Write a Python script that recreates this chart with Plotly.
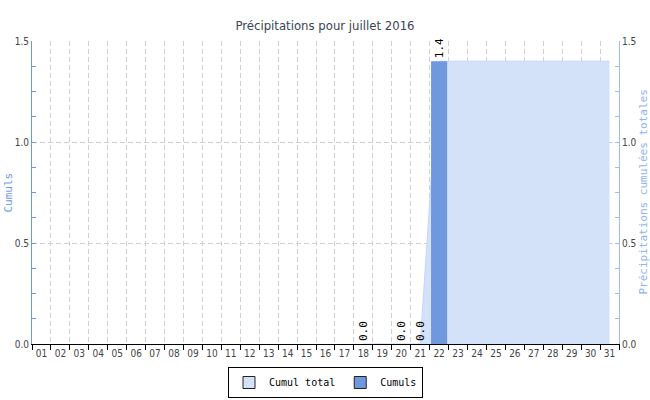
import plotly.graph_objects as go

# days of the month and the measured values
days = ['%02d' % d for d in range(1, 32)]

bar_days = ['18', '20', '21', '22']
bar_values = [0.0, 0.0, 0.0, 1.4]

total_days = ['%02d' % d for d in range(18, 32)]
total_values = [0.0, 0.0, 0.0, 0.0, 1.4, 1.4, 1.4, 1.4, 1.4, 1.4, 1.4, 1.4, 1.4, 1.4]

mono = 'DejaVu Sans Mono'
sans = 'Liberation Sans Narrow, DejaVu Sans Condensed, DejaVu Sans'

area_color = '#d3e1f9'
bar_color = '#6f98de'
right_color = '#9dbdf3'

W, H = 650, 400
L, R, T, B = 32, 31, 41, 56
PW = W - L - R

fig = go.Figure()

# cumulative area on the base axis (right side), drawn underneath
fig.add_trace(go.Scatter(
    x=total_days, y=total_values,
    name='Cumul total', showlegend=False,
    mode='lines',
    line=dict(color='#c4d6f6', width=1),
    fill='tozeroy',
    fillcolor=area_color,
    yaxis='y',
))

# daily bars on the overlaying left axis, drawn on top
fig.add_trace(go.Bar(
    x=bar_days, y=bar_values,
    name='Cumuls', showlegend=False,
    marker=dict(color=bar_color, line=dict(width=0)),
    width=0.85,
    text=['%.1f' % v for v in bar_values],
    textposition='outside',
    textangle=-90,
    constraintext='none',
    textfont=dict(family=mono, size=11, color='black'),
    cliponaxis=False,
    yaxis='y2',
))

# legend entries with outlined square swatches
fig.add_trace(go.Bar(x=[None], y=[None], name='Cumul total', yaxis='y2',
                     marker=dict(color=area_color, line=dict(color='#222', width=1))))
fig.add_trace(go.Bar(x=[None], y=[None], name='Cumuls', yaxis='y2',
                     marker=dict(color=bar_color, line=dict(color='#222', width=1))))

# axis titles placed by hand
fig.add_annotation(text='Cumuls', xref='paper', yref='paper',
                   x=(8 - L) / PW, y=0.5, xanchor='center', yanchor='middle',
                   textangle=-90, showarrow=False,
                   font=dict(family=mono, size=11, color='#6f9ae6'))
fig.add_annotation(text='Précipitations cumulées totales', xref='paper', yref='paper',
                   x=(643 - L) / PW, y=0.5, xanchor='center', yanchor='middle',
                   textangle=-90, showarrow=False,
                   font=dict(family=mono, size=11, color='#8fb3f0'))

fig.update_layout(
    width=W, height=H,
    margin=dict(l=L, r=R, t=T, b=B, autoexpand=False),
    paper_bgcolor='white', plot_bgcolor='white',
    title=dict(text='Précipitations pour juillet 2016', x=0.5, xanchor='center',
               y=1 - 25 / H, yanchor='middle',
               font=dict(family=sans, size=13, color='#3a4454')),
    xaxis=dict(
        type='category', categoryorder='array', categoryarray=days,
        range=[-0.5, 30.5], tickangle=0, automargin=False,
        tickson='boundaries', ticks='outside', ticklen=5, tickcolor='black',
        showline=True, linecolor='black', linewidth=1,
        showgrid=True, gridcolor='#d0d0d0', griddash='5px,3px', gridwidth=1,
        tickfont=dict(family=sans, size=10, color='#444'),
    ),
    yaxis=dict(
        range=[0, 1.5], dtick=0.5, tickformat='.1f', automargin=False,
        side='right',
        showline=True, linecolor=right_color, linewidth=1,
        ticks='inside', ticklen=4, tickcolor=right_color,
        minor=dict(dtick=0.125, ticks='inside', ticklen=4, tickcolor=right_color, showgrid=False),
        showgrid=True, gridcolor='#d0d0d0', griddash='5px,3px',
        zeroline=False,
        tickfont=dict(family=sans, size=10, color='#444'),
    ),
    yaxis2=dict(
        range=[0, 1.5], dtick=0.5, tickformat='.1f', automargin=False,
        overlaying='y', side='left',
        showline=True, linecolor=bar_color, linewidth=1,
        ticks='inside', ticklen=4, tickcolor=bar_color,
        minor=dict(dtick=0.125, ticks='inside', ticklen=4, tickcolor=bar_color, showgrid=False),
        showgrid=False, zeroline=False,
        tickfont=dict(family=sans, size=10, color='#444'),
    ),
    legend=dict(
        orientation='h', x=0.5, xanchor='center',
        yref='container', y=(H - 367) / H, yanchor='top',
        bordercolor='black', borderwidth=1, bgcolor='white',
        font=dict(family=mono, size=10, color='black'),
        traceorder='normal',
    ),
    barmode='overlay',
)

# the page body has a default 8px margin; drop it so the figure sits at 0,0
fig.write_html('out.html', config={'displayModeBar': False},
               post_script="document.body.style.margin='0';")
